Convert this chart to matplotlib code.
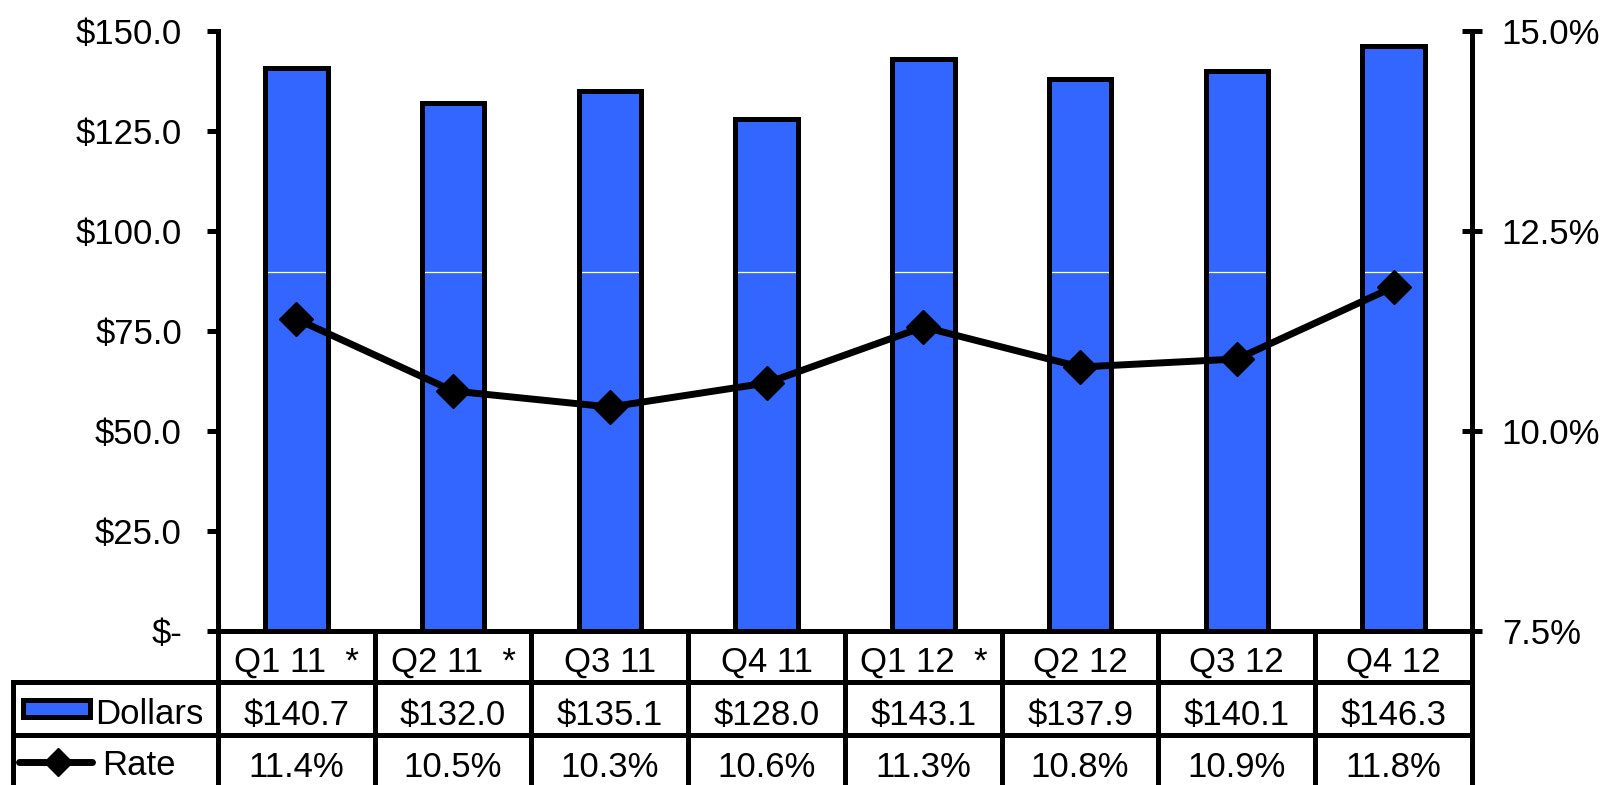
import matplotlib
matplotlib.use("Agg")
import matplotlib.pyplot as plt
import matplotlib.transforms as mtransforms
from matplotlib.lines import Line2D
from matplotlib.patches import Rectangle

plt.rcParams['font.family'] = ['Liberation Sans', 'DejaVu Sans']

categories = ['Q1 11  *', 'Q2 11  *', 'Q3 11', 'Q4 11', 'Q1 12  *', 'Q2 12', 'Q3 12', 'Q4 12']
dollars = [140.7, 132.0, 135.1, 128.0, 143.1, 137.9, 140.1, 146.3]
rate = [11.4, 10.5, 10.3, 10.6, 11.3, 10.8, 10.9, 11.8]
left_ticks = [0, 25, 50, 75, 100, 125, 150]
left_labels = ['$-', '$25.0', '$50.0', '$75.0', '$100.0', '$125.0', '$150.0']
right_ticks = [7.5, 10.0, 12.5, 15.0]
right_labels = ['7.5%', '10.0%', '12.5%', '15.0%']
series_names = ['Dollars', 'Rate']

BLUE = '#3366FF'
W, H = 1606, 785
fig = plt.figure(figsize=(W / 100, H / 100), dpi=100)
L, R, T, B = 218, 1472, 31, 631
ax = fig.add_axes([L / W, 1 - B / H, (R - L) / W, (B - T) / H])
ax2 = ax.twinx()

LW = 3.6
FS = 25
x = list(range(len(categories)))
ax.bar(x, dollars, width=0.4, color=BLUE, edgecolor='none', zorder=2)
ax.axhline(89.8, color='white', lw=0.9, zorder=2.5)
ax.bar(x, dollars, width=0.4, fill=False, edgecolor='black', linewidth=LW, zorder=3)
ax.set_xlim(-0.5, len(categories) - 0.5)
ax.set_ylim(0, 150)
ax.set_yticks(left_ticks)
ax.set_yticklabels(left_labels)
ax.set_xticks([])

ax2.plot(x, rate, color='black', lw=5, marker='D', ms=17, mew=1, zorder=5)
ax2.set_ylim(7.5, 15.0)
ax2.set_yticks(right_ticks)
ax2.set_yticklabels(right_labels)

for a in (ax, ax2):
    a.spines['top'].set_visible(False)
    for s in ('left', 'right', 'bottom'):
        a.spines[s].set_linewidth(LW)
        a.spines[s].set_capstyle('projecting')
ax.spines['right'].set_visible(False)
ax2.spines['left'].set_visible(False)
ax2.spines['bottom'].set_visible(False)
ax.tick_params(axis='y', direction='out', length=8, width=LW, labelsize=FS, pad=18)
ax2.tick_params(axis='y', direction='inout', length=15, width=LW, labelsize=FS, pad=14)
ax.patch.set_visible(False)

# data table below the axes
tr = mtransforms.blended_transform_factory(ax.transData, ax.transAxes)
tra = ax.transAxes
ph = B - T

def fy(ypx):
    return (B - ypx) / ph

def fx(xpx):
    return (xpx - L) / (R - L)

def hline(x0, x1, y, trans):
    ax.add_line(Line2D([x0, x1], [y, y], transform=trans, color='black', lw=LW,
                       clip_on=False, solid_capstyle='projecting'))

def vline(xv, y0, y1, trans):
    ax.add_line(Line2D([xv, xv], [y0, y1], transform=trans, color='black', lw=LW,
                       clip_on=False, solid_capstyle='projecting'))

n = len(categories)
for i in range(n + 1):
    vline(i - 0.5, 0, fy(800), tr)
vline(fx(12.5), fy(682), fy(800), tra)
hline(fx(12.5), 1, fy(682), tra)
hline(fx(12.5), 1, fy(735), tra)

for i, c in enumerate(categories):
    ax.text(i, fy(672), c, transform=tr, ha='center', va='baseline', fontsize=FS)
    ax.text(i, fy(725), f'${dollars[i]:.1f}', transform=tr, ha='center', va='baseline', fontsize=FS)
    ax.text(i, fy(777), f'{rate[i]:.1f}%', transform=tr, ha='center', va='baseline', fontsize=FS)

# legend keys in the label column
ax.add_patch(Rectangle((fx(22.5), fy(716.5)), fx(90.5) - fx(22.5), fy(699.5) - fy(716.5),
                       transform=tra, facecolor=BLUE, edgecolor='black', lw=LW, clip_on=False))
ax.text(fx(95), fy(724), series_names[0], transform=tra, ha='left', va='baseline', fontsize=FS)
ax.add_line(Line2D([fx(19), fx(92)], [fy(762), fy(762)], transform=tra, color='black',
                   lw=5, clip_on=False, solid_capstyle='round'))
ax.add_line(Line2D([fx(58)], [fy(762)], transform=tra, color='black', marker='D', ms=14,
                   clip_on=False))
ax.text(fx(102), fy(775), series_names[1], transform=tra, ha='left', va='baseline', fontsize=FS)

fig.savefig('out.png', dpi=100)
